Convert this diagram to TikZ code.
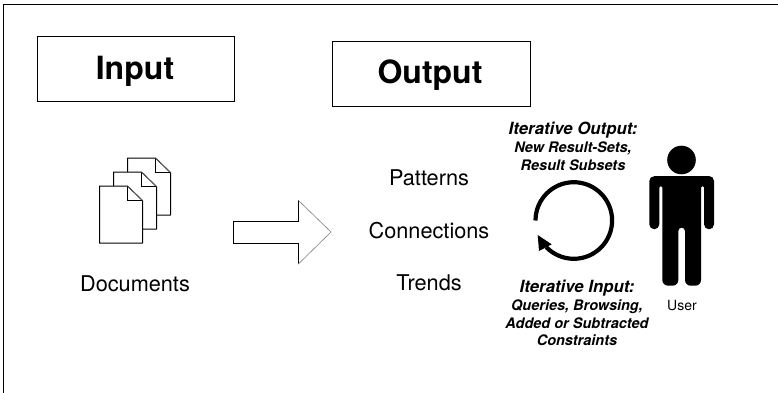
\documentclass[tikz,border=0pt]{standalone}
\usepackage{fontspec}
\setmainfont{TeX Gyre Heros}
\tikzset{
  lbl/.style={inner sep=0pt,anchor=base,font=\fontsize{21.7}{24}\selectfont},
  head/.style={inner sep=0pt,anchor=base,font=\fontsize{32}{36}\selectfont\bfseries},
  titlebox/.style={draw=black,line width=1pt,minimum width=197.5pt,minimum height=65pt,inner sep=0pt},
  capa/.style={inner sep=0pt,anchor=base,font=\fontsize{16.8}{20}\selectfont\bfseries\itshape},
  capb/.style={inner sep=0pt,anchor=base,font=\fontsize{14.5}{18}\selectfont\bfseries\itshape},
  sheet/.style={draw=black,fill=white,line width=1pt,line join=round},
  foldline/.style={draw=gray,line width=.5pt},
}
\begin{document}
\begin{tikzpicture}[x=1pt,y=-1pt]
\useasboundingbox (0,0) rectangle (778,393);
\fill[white] (0,0) rectangle (778,393);
\coordinate (fa) at (3.5,393);
\coordinate (fb) at (3.5,5);
\coordinate (fc) at (778,5);
\draw[line width=1pt] (fa) -- (fb) -- (fc);
\node[titlebox] (inbox) at (136,69.5) {};
\node[titlebox] (outbox) at (431.5,74) {};
\node[head] (intext) at (135,80) {Input};
\node[head] (outtext) at (430,84) {Output};
\foreach \n in {2,1,0}{
\begin{scope}[shift={(14*\n,-14*\n)}]
  \draw[sheet] (99.5,186) -- (127.5,186) -- (142.5,200.5) -- (142.5,243) -- (99.5,243) -- cycle;
  \draw[black,line width=1pt] (127.5,186) -- (127.5,200.5) -- (142.5,200.5);
  \draw[foldline] (127.5,186) -- (142.5,200.5);
\end{scope}}
\node[lbl] (docs) at (135,291.5) {Documents};
\draw[line width=1pt,line join=miter] (298,200) -- (298,221) -- (233,221) -- (233,243.3) -- (298,243.3) -- (298,264.3);
\draw[gray,line width=.6pt] (298,200) -- (331,232) -- (298,264.3);
\node[lbl] (pat) at (429,185) {Patterns};
\node[lbl] (con) at (429,238) {Connections};
\node[lbl] (tre) at (429,290) {Trends};
\node[capa] (ioa) at (573,135) {Iterative Output:};
\node[capb] (iob) at (573,152.3) {New Result-Sets,};
\node[capb] (ioc) at (573,170) {Result Subsets};
\node[capa] (iia) at (577,292.3) {Iterative Input:};
\node[capb] (iib) at (577,310.7) {Queries, Browsing,};
\node[capb] (iic) at (577,328) {Added or Subtracted};
\node[capb] (iid) at (577,345.7) {Constraints};
\draw[line width=4.2pt] (535.5,220.5) arc[start angle=180,end angle=496,radius=38.3];
\fill (537.7,235) -- (539,251) -- (551.7,244.3) -- cycle;
\fill (681.5,160) circle[radius=14.3];
\fill (654,176) -- (709,176) arc[start angle=-90,end angle=0,radius=5] -- (714,224.3) arc[start angle=0,end angle=180,radius=5] -- (704,187.5) arc[start angle=0,end angle=-180,radius=1.5] -- (701,280) arc[start angle=0,end angle=90,radius=5.7] -- (690.7,285.7) arc[start angle=90,end angle=180,radius=5.7] -- (685,231) arc[start angle=0,end angle=-180,radius=3.35] -- (678.3,280) arc[start angle=0,end angle=90,radius=5.7] -- (668,285.7) arc[start angle=90,end angle=180,radius=5.7] -- (662.3,187.5) arc[start angle=0,end angle=-180,radius=1.5] -- (659.3,224.3) arc[start angle=0,end angle=180,radius=5] -- (649.3,181) arc[start angle=180,end angle=270,radius=4.7] -- cycle;
\node[inner sep=0pt,anchor=base,font=\fontsize{14}{16}\selectfont] (usr) at (682,310) {User};
\end{tikzpicture}
\end{document}
